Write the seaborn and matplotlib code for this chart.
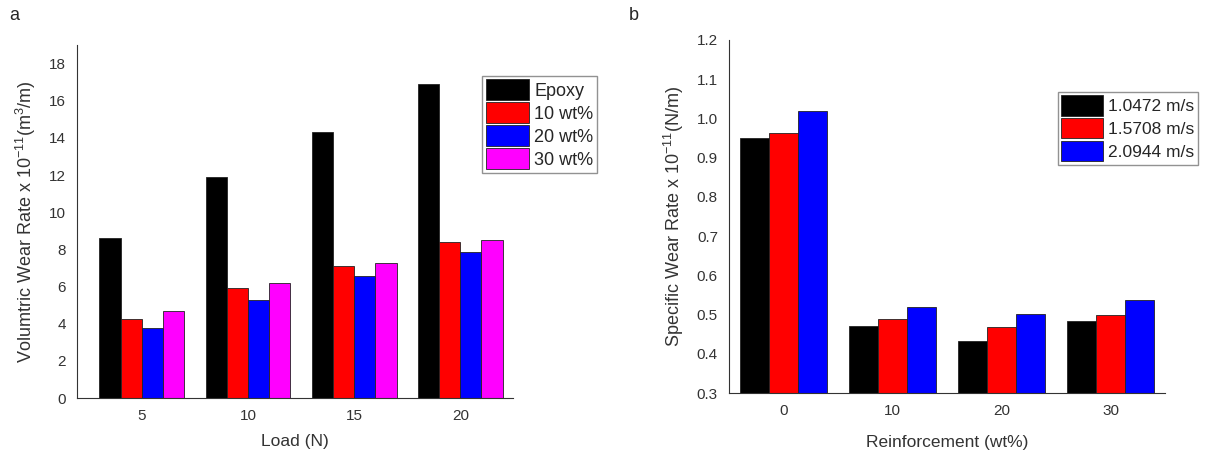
import numpy as np
import pandas as pd
import seaborn as sns
import matplotlib.pyplot as plt

# panel a: volumetric wear rate vs load
loads = ["5", "10", "15", "20"]
series_a = ["Epoxy", "10 wt%", "20 wt%", "30 wt%"]
epoxy = [8.6, 11.9, 14.3, 16.9]
wt10 = [4.25, 5.9, 7.1, 8.4]
wt20 = [3.75, 5.3, 6.55, 7.85]
wt30 = [4.7, 6.2, 7.25, 8.5]

# panel b: specific wear rate vs reinforcement
reinf = ["0", "10", "20", "30"]
series_b = ["1.0472 m/s", "1.5708 m/s", "2.0944 m/s"]
v1 = [0.95, 0.472, 0.434, 0.485]
v2 = [0.964, 0.489, 0.469, 0.50]
v3 = [1.019, 0.52, 0.501, 0.537]

sns.set_style("white")
plt.rcParams['font.family'] = ['Liberation Sans', 'DejaVu Sans']
plt.rcParams['mathtext.fontset'] = 'custom'
plt.rcParams['mathtext.rm'] = 'Liberation Sans'
plt.rcParams['mathtext.it'] = 'Liberation Sans'

df_a = pd.DataFrame({
    "Load": np.repeat(loads, 4),
    "Series": series_a * 4,
    "Value": np.array([epoxy, wt10, wt20, wt30]).T.ravel(),
})
df_b = pd.DataFrame({
    "Reinf": np.repeat(reinf, 3),
    "Series": series_b * 4,
    "Value": np.array([v1, v2, v3]).T.ravel(),
})

fig = plt.figure(figsize=(12.05, 4.54), dpi=100)
ax1 = fig.add_axes([0.064, 0.123, 0.362, 0.778])
ax2 = fig.add_axes([0.605, 0.134, 0.362, 0.778])

pal_a = ["#000000", "#ff0000", "#0000ff", "#ff00ff"]
pal_b = ["#000000", "#ff0000", "#0000ff"]

sns.barplot(data=df_a, x="Load", y="Value", hue="Series", palette=pal_a,
            width=0.8, saturation=1, edgecolor="#222222", linewidth=0.6, ax=ax1, legend=True)
sns.barplot(data=df_b, x="Reinf", y="Value", hue="Series", palette=pal_b,
            width=0.8, saturation=1, edgecolor="#222222", linewidth=0.6, ax=ax2, legend=True)

ax1.set_ylim(0, 19)
ax1.set_xlim(-0.61, 3.5)
ax1.set_yticks(np.arange(0, 19, 2))
ax1.set_xlabel("Load (N)", fontsize=12.5, color="#333333", labelpad=8)
ax1.set_ylabel("Volumtric Wear Rate x 10$^{-11}$(m$^3$/m)", fontsize=13, color="#333333", labelpad=8)

ax2.set_ylim(0.3, 1.2)
ax2.set_xlim(-0.5, 3.5)
ax2.set_yticks(np.arange(0.3, 1.21, 0.1))
ax2.set_yticklabels([f"{t:.1f}" for t in np.arange(0.3, 1.21, 0.1)])
ax2.set_xlabel("Reinforcement (wt%)", fontsize=12.5, color="#333333", labelpad=12)
ax2.set_ylabel("Specific Wear Rate x 10$^{-11}$(N/m)", fontsize=13, color="#333333", labelpad=8)

for ax in (ax1, ax2):
    sns.despine(ax=ax)
    ax.spines['left'].set_color("#333333")
    ax.spines['bottom'].set_color("#333333")
    ax.tick_params(length=0, labelsize=11, colors="#333333", pad=8)

ax1.legend(loc="upper left", bbox_to_anchor=(0.40, 0.833), bbox_transform=fig.transFigure,
           fontsize=13, frameon=True, fancybox=False, edgecolor="#777777",
           handlelength=2.4, handleheight=1.4, handletextpad=0.3, labelspacing=0.12,
           borderpad=0.2, borderaxespad=0)
ax2.legend(loc="upper left", bbox_to_anchor=(0.878, 0.798), bbox_transform=fig.transFigure,
           fontsize=12.5, frameon=True, fancybox=False, edgecolor="#777777",
           handlelength=2.4, handleheight=1.45, handletextpad=0.3, labelspacing=0.12,
           borderpad=0.2, borderaxespad=0)

fig.text(0.008, 0.955, "a", fontsize=13)
fig.text(0.522, 0.955, "b", fontsize=13)

plt.savefig("out.png", dpi=100, facecolor="w")
